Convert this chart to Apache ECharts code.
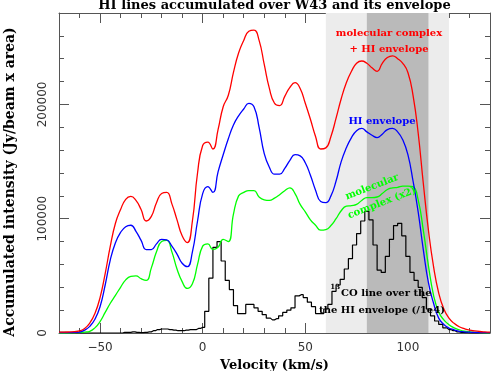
<!DOCTYPE html>
<html>
<head>
<meta charset="utf-8">
<script src="https://cdn.jsdelivr.net/npm/echarts@6/dist/echarts.min.js"></script>
<style>html,body{margin:0;padding:0;background:#fff}#c{width:491px;height:371px}</style>
</head>
<body>
<div id="c"></div>
<script>
// Velocity grid (km/s) for the smooth HI curves, values in units of 1000 Jy/beam x area
var hiVel = [-70,-67.5,-65,-62.5,-60,-57.5,-55,-52.5,-50,-47.5,-45,-42.5,-40,-37.5,-35,-32.5,-30,-27.5,-25,-22.5,-20,-17.5,-15,-12.5,-10,-7.5,-5,-2.5,0,2.5,5,7.5,10,12.5,15,17.5,20,22.5,25,27.5,30,32.5,35,37.5,40,42.5,45,47.5,50,52.5,55,57.5,60,62.5,65,67.5,70,72.5,75,77.5,80,82.5,85,87.5,90,92.5,95,97.5,100,102.5,105,107.5,110,112.5,115,117.5,120,122.5,125,127.5,130,132.5,135,137.5,140];

// molecular complex + HI envelope (red)
var redVal = [0.8,0.8,1,1.2,1.8,4,8.7,17,31,52,76,96,108,117,119.5,116,108,98,102,114,122,123,113,99,85,79,98,140,164,167,161,178,198,208,228,245,256,264,265,256,235,214,201,199,207,215,219,214,201,187,172,161,162,172,188,205,219,229,236,238,236,232,229,236,241,242.5,240,236,228,208,175,131,90,58,35,21,13,8.5,5.5,3.8,2.5,1.8,1.3,1,0.8];

// HI envelope (blue)
var blueVal = [0.3,0.3,0.4,0.5,0.8,2.5,5.8,12,23,42,64,79,88,93,94.3,89,81,73,73,78,82,81.5,76,69,61,58,71,98,122,128,123,141,156,170,182,190,196,201,198,180,157,145,139,139,144,151,156,155,149,138,125,115,114,120,133,150,162,171,177,179,176,173,171,174,178,179,176,169,156,133,106,73,44,26,13,7.5,4.4,2.8,1.5,1,0.7,0.5,0.4,0.3,0.3];

// molecular complex (x2) (green)
var greenVal = [0,0,0,0.2,0.4,0.8,1.5,4.5,10,18,26,33,40,46.5,49.5,50,47.5,46,57,71,80,81,71,56,45,39,43,60,76,78,73,75,82,80,104,120,123,124.5,124.5,119,116.5,116,118,121,124.5,127,122,112.5,106,99,94.3,90,90.5,94,100,107,111,111.5,112.5,116,118.5,118.5,119,122,125.6,127,127.5,128.5,128.5,128,116.5,90,59,33,18.3,11.5,7.3,4.5,2.8,1.6,1,0.6,0.4,0.2,0.1];

// 13CO line over the HI envelope (/1e4), 2 km/s channels
var coVel = [-70,-68,-66,-64,-62,-60,-58,-56,-54,-52,-50,-48,-46,-44,-42,-40,-38,-36,-34,-32,-30,-28,-26,-24,-22,-20,-18,-16,-14,-12,-10,-8,-6,-4,-2,0,2,4,6,8,10,12,14,16,18,20,22,24,26,28,30,32,34,36,38,40,42,44,46,48,50,52,54,56,58,60,62,64,66,68,70,72,74,76,78,80,82,84,86,88,90,92,94,96,98,100,102,104,106,108,110,112,114,116,118,120,122,124,126,128,130,132,134,136,138,140];
var coVal = [0.5,0.5,0.3,0,0,0,0,0,0,0,0,0,0,0,0,0,0.5,0.5,1,0.5,0.3,0.5,1,2,3,3.5,3.5,3,2.5,2,2,2.5,3,3,4,5,19,48,75,80,63,46,38,24,17,17,25,25,22,19,16,13,11.5,12.5,15,18,20,22,32.5,33.5,31,27,23,17,17,21,25,36.5,42,47,56,65,77,87,98,106.5,99,77,55,53,67,82,94,96,85,67,53,46,40,31,21,15,10.5,7.5,4.5,3,2,1,0.5,0.3,0,0,0,0,0,0];

// Shaded velocity bands
var lightBand = [60, 120];
var darkBand = [80, 110];

// Axis ticks
var xMajor = [-50, 0, 50, 100];
var yMajor = [0, 100000, 200000];

function pairs(v, a, scale) { return v.map(function (x, i) { return [x, a[i] * scale]; }); }

var frame = '#555';
var tickFont = { fontFamily: 'DejaVu Sans', fontSize: 12, color: '#333' };
var serif = 'DejaVu Serif';

function xAx(pos, major, showLabel) {
  var ax = {
    type: 'value', min: -70, max: 140, position: pos,
    splitLine: { show: false },
    axisLine: { show: !major, onZero: false, lineStyle: { color: frame, width: 1 } },
    axisTick: { show: true, inside: true, length: major ? 10 : 5, lineStyle: { color: frame } },
    axisLabel: { show: false }
  };
  if (major) {
    ax.axisTick.customValues = xMajor;
    if (showLabel) {
      ax.axisLabel = Object.assign({ show: true, customValues: xMajor, margin: 9,
        formatter: function (v) { return v < 0 ? '\u2212' + Math.abs(v) : String(v); } }, tickFont);
      ax.name = 'Velocity (km/s)';
      ax.nameLocation = 'middle';
      ax.nameGap = 24;
      ax.nameTextStyle = { fontFamily: serif, fontWeight: 'bold', fontSize: 13, color: '#000' };
    }
  } else {
    ax.interval = 10;
  }
  return ax;
}
function yAx(pos, major, showLabel) {
  var ax = {
    type: 'value', min: 0, max: 280000, position: pos,
    splitLine: { show: false },
    axisLine: { show: !major, onZero: false, lineStyle: { color: frame, width: 1 } },
    axisTick: { show: true, inside: true, length: major ? 10 : 5, lineStyle: { color: frame } },
    axisLabel: { show: false }
  };
  if (major) {
    ax.axisTick.customValues = yMajor;
    if (showLabel) {
      ax.axisLabel = Object.assign({ show: true, customValues: yMajor, rotate: 90, margin: 10,
        formatter: function (v) { return String(v); } }, tickFont);
    }
  } else {
    ax.interval = 20000;
  }
  return ax;
}

var chart = echarts.init(document.getElementById('c'), null, { renderer: 'canvas' });
chart.setOption({
  animation: false,
  backgroundColor: '#fff',
  grid: { left: 59, right: 1, top: 13, bottom: 38, containLabel: false, outerBoundsMode: 'none' },
  xAxis: [xAx('bottom', false), xAx('bottom', true, true), xAx('top', false), xAx('top', true, false)],
  yAxis: [yAx('left', false), yAx('left', true, true), yAx('right', false), yAx('right', true, false)],
  series: [
    {
      type: 'line', data: [], xAxisIndex: 0, yAxisIndex: 0, z: 0, silent: true,
      markArea: {
        silent: true,
        data: [
          [{ xAxis: lightBand[0], itemStyle: { color: '#ececec' } }, { xAxis: lightBand[1] }],
          [{ xAxis: darkBand[0], itemStyle: { color: '#bababa' } }, { xAxis: darkBand[1] }]
        ]
      }
    },
    { type: 'line', data: pairs(coVel, coVal, 1000), step: 'middle', showSymbol: false, symbol: 'none',
      lineStyle: { color: '#000', width: 1.2 }, z: 3 },
    { type: 'line', data: pairs(hiVel, greenVal, 1000), smooth: 0.5, showSymbol: false, symbol: 'none',
      lineStyle: { color: '#00ff00', width: 1.3 }, z: 4 },
    { type: 'line', data: pairs(hiVel, blueVal, 1000), smooth: 0.5, showSymbol: false, symbol: 'none',
      lineStyle: { color: '#0000ff', width: 1.3 }, z: 5 },
    { type: 'line', data: pairs(hiVel, redVal, 1000), smooth: 0.5, showSymbol: false, symbol: 'none',
      lineStyle: { color: '#ff0000', width: 1.3 }, z: 6 }
  ],
  graphic: [
    { type: 'text', x: 274.5, y: 6, z: 100, style: { text: 'HI lines accumulated over W43 and its envelope', fontFamily: serif, fontWeight: 'bold', fontSize: 13, fill: '#000', align: 'center', verticalAlign: 'middle' } },
    { type: 'text', x: 10, y: 182, rotation: Math.PI / 2, z: 100, style: { text: 'Accumulated intensity (Jy/beam x area)', fontFamily: serif, fontWeight: 'bold', fontSize: 14, fill: '#000', align: 'center', verticalAlign: 'middle' } },
    { type: 'text', x: 389, y: 33, z: 100, style: { text: 'molecular complex', fontFamily: serif, fontWeight: 'bold', fontSize: 10, fill: '#ff0000', align: 'center', verticalAlign: 'middle' } },
    { type: 'text', x: 389, y: 49, z: 100, style: { text: '+ HI envelope', fontFamily: serif, fontWeight: 'bold', fontSize: 10, fill: '#ff0000', align: 'center', verticalAlign: 'middle' } },
    { type: 'text', x: 382, y: 121, z: 100, style: { text: 'HI envelope', fontFamily: serif, fontWeight: 'bold', fontSize: 10, fill: '#0000ff', align: 'center', verticalAlign: 'middle' } },
    { type: 'text', x: 372, y: 187, rotation: 0.367, z: 100, style: { text: 'molecular', fontFamily: serif, fontWeight: 'bold', fontSize: 10, fill: '#00ff00', align: 'center', verticalAlign: 'middle' } },
    { type: 'text', x: 382, y: 203, rotation: 0.367, z: 100, style: { text: 'complex (x2)', fontFamily: serif, fontWeight: 'bold', fontSize: 10, fill: '#00ff00', align: 'center', verticalAlign: 'middle' } },
    { type: 'text', x: 340, y: 287, z: 100, style: { text: '13', fontFamily: serif, fontWeight: 'bold', fontSize: 7, fill: '#000', align: 'right', verticalAlign: 'middle' } },
    { type: 'text', x: 341, y: 293, z: 100, style: { text: 'CO line over the', fontFamily: serif, fontWeight: 'bold', fontSize: 10, fill: '#000', align: 'left', verticalAlign: 'middle' } },
    { type: 'text', x: 382, y: 310, z: 100, style: { text: 'the HI envelope (/1e4)', fontFamily: serif, fontWeight: 'bold', fontSize: 10, fill: '#000', align: 'center', verticalAlign: 'middle' } }
  ]
});
</script>
</body>
</html>
